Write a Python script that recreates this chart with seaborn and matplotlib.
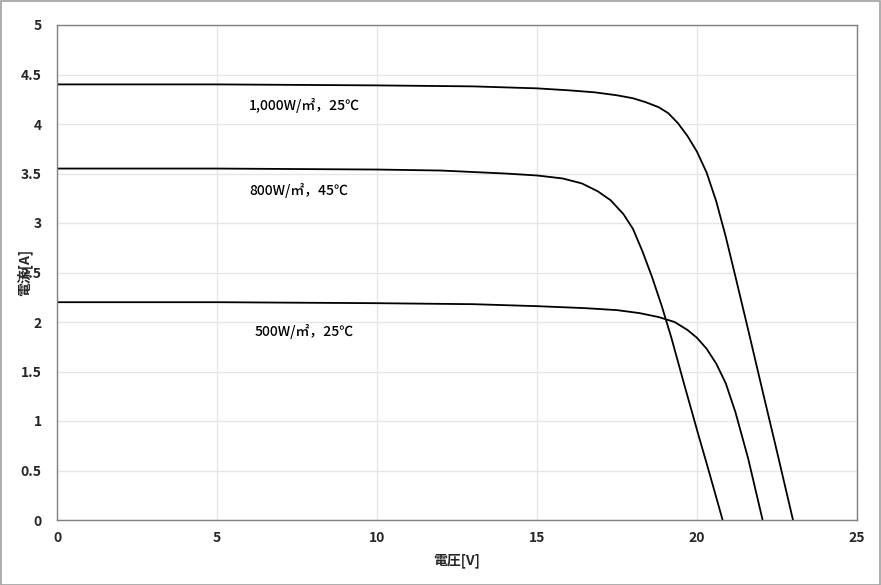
import matplotlib
matplotlib.use("Agg")
import matplotlib.pyplot as plt
import seaborn as sns
import pandas as pd
from matplotlib.patches import Rectangle

# ---- data ----
v_1000 = [0, 5, 10, 13, 15, 16, 16.8, 17.5, 18.0, 18.4, 18.8, 19.1, 19.4, 19.7, 20.0, 20.3,
          20.6, 20.9, 21.2, 21.6, 22.0, 22.5, 23.0]
i_1000 = [4.40, 4.40, 4.39, 4.38, 4.36, 4.34, 4.32, 4.29, 4.26, 4.22, 4.17, 4.11, 4.01, 3.88,
          3.72, 3.51, 3.22, 2.86, 2.46, 1.92, 1.37, 0.69, 0.0]

v_800 = [0, 5, 10, 12, 14, 15, 15.8, 16.4, 16.9, 17.3, 17.7, 18.0, 18.3, 18.6, 18.9, 19.2,
         19.6, 20.0, 20.4, 20.8]
i_800 = [3.55, 3.55, 3.54, 3.53, 3.50, 3.48, 3.45, 3.40, 3.32, 3.23, 3.09, 2.94, 2.71, 2.45,
         2.16, 1.84, 1.37, 0.91, 0.46, 0.0]

v_500 = [0, 5, 10, 13, 15, 16.5, 17.5, 18.2, 18.8, 19.3, 19.7, 20.0, 20.3, 20.6, 20.9, 21.2,
         21.6, 22.05]
i_500 = [2.20, 2.20, 2.19, 2.18, 2.16, 2.14, 2.12, 2.09, 2.05, 2.00, 1.92, 1.84, 1.73, 1.58,
         1.38, 1.09, 0.62, 0.0]

labels = ["1,000W/㎡，25℃", "800W/㎡，45℃", "500W/㎡，25℃"]
label_pos = [(6.0, 4.19), (6.0, 3.33), (6.17, 1.90)]

x_ticks = [0, 5, 10, 15, 20, 25]
y_ticks = [0, 0.5, 1, 1.5, 2, 2.5, 3, 3.5, 4, 4.5, 5]
x_tick_labels = ["0", "5", "10", "15", "20", "25"]
y_tick_labels = ["0", "0.5", "1", "1.5", "2", "2.5", "3", "3.5", "4", "4.5", "5"]
x_label = "電圧[V]"
y_label = "電流[A]"

# ---- long-form table ----
frames = []
for lab, v, i in zip(labels, [v_1000, v_800, v_500], [i_1000, i_800, i_500]):
    frames.append(pd.DataFrame({"V": v, "I": i, "cond": lab}))
df = pd.concat(frames, ignore_index=True)

sns.set_theme(style="white")
plt.rcParams["font.family"] = ["Noto Sans CJK JP", "DejaVu Sans"]

fig = plt.figure(figsize=(8.81, 5.85), dpi=100)
ax = fig.add_axes([57 / 881, 65 / 585, 800 / 881, 495 / 585])

sns.lineplot(data=df, x="V", y="I", hue="cond", units="cond", estimator=None,
             sort=False, palette=["black"] * 3, linewidth=1.3, legend=False, ax=ax)

ax.set_xlim(0, 25)
ax.set_ylim(0, 5)
ax.set_xticks(x_ticks)
ax.set_xticklabels(x_tick_labels, fontsize=10, fontweight="bold")
ax.set_yticks(y_ticks)
ax.set_yticklabels(y_tick_labels, fontsize=10, fontweight="bold")
ax.tick_params(axis="both", length=0)
ax.tick_params(axis="x", pad=8)
ax.tick_params(axis="y", pad=11)

ax.grid(True, color="#e6e6e6", linewidth=1.0)
ax.set_axisbelow(True)
for s in ax.spines.values():
    s.set_color("#808080")
    s.set_linewidth(1.0)
    s.set_visible(True)

ax.set_xlabel(x_label, fontsize=10, fontweight="bold")
ax.set_ylabel(y_label, fontsize=10, fontweight="bold")
ax.xaxis.set_label_coords(0.5, -0.068)
ax.yaxis.set_label_coords(-0.031, 0.5)

for lab, (x, y) in zip(labels, label_pos):
    ax.text(x, y, lab, fontsize=10, fontweight="medium", ha="left", va="center", color="black")

fig.patches.append(Rectangle((0.5 / 881, 0.5 / 585), 879.5 / 881, 583.5 / 585,
                             transform=fig.transFigure, fill=False,
                             edgecolor="#a0a0a0", linewidth=1.2))

fig.savefig("out.png", dpi=100)
